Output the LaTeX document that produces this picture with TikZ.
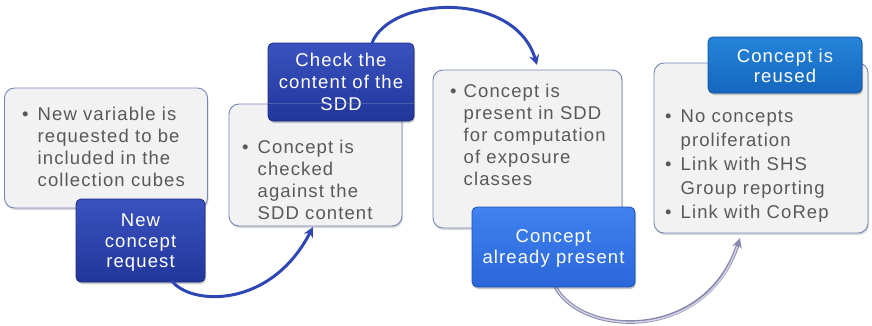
\documentclass[tikz,border=0pt]{standalone}
\usepackage{fontspec}
\setmainfont{Liberation Sans}[LetterSpace=6]
\usetikzlibrary{arrows.meta,shadows}

\definecolor{panelfill}{HTML}{F2F2F2}
\definecolor{paneledge}{HTML}{7585B8}
\definecolor{bodytext}{HTML}{595959}
\definecolor{navytop}{HTML}{3A52C0}
\definecolor{navybot}{HTML}{22369A}
\definecolor{navyedge}{HTML}{1B2C7E}
\definecolor{brighttop}{HTML}{3F82F0}
\definecolor{brightbot}{HTML}{2A66D8}
\definecolor{brightedge}{HTML}{1F52B0}
\definecolor{azuretop}{HTML}{2484DA}
\definecolor{azurebot}{HTML}{1666BE}
\definecolor{azureedge}{HTML}{10529E}
\definecolor{flowblue}{HTML}{2E47B4}
\definecolor{flowgrey}{HTML}{8A8AAE}
\definecolor{flowlight}{HTML}{D4D4E8}

\newcommand{\bodyfont}{\fontsize{18.5}{22}\selectfont}
\newcommand{\loosefont}{\fontsize{18.5}{24}\selectfont}

\pgfdeclarelayer{under}
\pgfsetlayers{under,main}

\tikzset{
  panel/.style={rectangle, rounded corners=10pt, fill=panelfill, draw=paneledge,
    line width=0.9pt, inner sep=0pt,
    drop shadow={shadow xshift=1pt, shadow yshift=-2pt, opacity=0.25, fill=black!60}},
  tag/.style={rectangle, rounded corners=5pt, line width=0.8pt, inner sep=0pt,
    text=white, font=\bodyfont, align=center,
    drop shadow={shadow xshift=1pt, shadow yshift=-2pt, opacity=0.3, fill=black!70}},
  navytag/.style={tag, top color=navytop, bottom color=navybot, draw=navyedge},
  brighttag/.style={tag, top color=brighttop, bottom color=brightbot, draw=brightedge},
  azuretag/.style={tag, top color=azuretop, bottom color=azurebot, draw=azureedge},
  bullets/.style={anchor=base west, inner sep=0pt, text=bodytext, font=\bodyfont},
  tagtext/.style={anchor=base, inner sep=0pt, text=white, font=\bodyfont},
  flow/.style={line width=3pt, draw=flowblue,
    -{Stealth[length=10pt, width=10pt]}},
  flowout/.style={line width=3.6pt, draw=flowgrey,
    -{Stealth[length=10pt, width=10pt]}},
  flowin/.style={line width=1.4pt, draw=flowlight, shorten >=9pt},
}

\newcommand{\bl}{\textbullet}

\begin{document}
\begin{tikzpicture}[x=1pt, y=-1pt]
\useasboundingbox (0,0) rectangle (872,325);

% ---- stage 1: new concept request
\node[panel, minimum width=203pt, minimum height=120pt] (p1) at (106,148) {};
\node[bullets] (t1) at (22,120) {\begin{tabular}[t]{@{}l@{\hspace{9pt}}l@{}}
  \bl & New variable is\\ & requested to be\\ & included in the\\ & collection cubes
  \end{tabular}};
\node[navytag, minimum width=129pt, minimum height=83pt] (k1) at (140.5,240.5) {};
\node[tagtext] (k1a) at (140.5,226.5) {New};
\node[tagtext] (k1b) at (140.5,247) {concept};
\node[tagtext] (k1c) at (140.5,267) {request};

% ---- stage 2: check the content of the SDD
\node[panel, minimum width=173pt, minimum height=122pt] (p2) at (315.5,165) {};
\node[navytag, minimum width=146pt, minimum height=78pt] (k2) at (341,82) {};
\node[tagtext] (k2a) at (341,66) {Check the};
\node[tagtext] (k2b) at (341,88) {content of the};
\node[tagtext] (k2c) at (341,110) {SDD};
% panel edge showing through the heading
\draw[paneledge, line width=0.8pt, opacity=0.45]
  (k2.west |- p2.north) ++(0.5,0) -- (k2.east |- p2.north);
\node[bullets] (t2) at (242,153) {\begin{tabular}[t]{@{}l@{\hspace{9pt}}l@{}}
  \bl & Concept is\\ & checked\\ & against the\\ & SDD content
  \end{tabular}};

% ---- stage 3: concept already present
\node[panel, minimum width=189pt, minimum height=158pt] (p3) at (527.5,149) {};
\node[bullets] (t3) at (450,97) {\begin{tabular}[t]{@{}l@{\hspace{7pt}}l@{}}
  \bl & Concept is\\ & present in SDD\\ & for computation\\ & of exposure\\ & classes
  \end{tabular}};
\node[brighttag, minimum width=163pt, minimum height=80pt] (k3) at (553.5,247) {};
\node[tagtext] (k3a) at (553.5,242.5) {Concept};
\node[tagtext] (k3b) at (553.5,263.5) {already present};

% ---- stage 4: concept is reused
\node[panel, minimum width=214pt, minimum height=170pt] (p4) at (761,148) {};
\node[bullets, font=\loosefont] (t4) at (665,122) {\begin{tabular}[t]{@{}l@{\hspace{9pt}}l@{}}
  \bl & No concepts\\ & proliferation\\ \bl & Link with SHS\\ & Group reporting\\ \bl & Link with CoRep
  \end{tabular}};
\node[azuretag, minimum width=154pt, minimum height=56pt] (k4) at (785,65) {};
\node[tagtext] (k4a) at (785,62) {Concept is};
\node[tagtext] (k4b) at (785,82) {reused};

% ---- connectors
\coordinate (f1s) at (172,281);
\coordinate (f1e) at (313,227);
\coordinate (f2s) at (372,43);
\coordinate (f2e) at (537,65);
\coordinate (f3s) at (553,282);
\coordinate (f3e) at (740,238);

\draw[flow] (f1s) .. controls (190,305) and (270,310) .. (f1e);
\draw[flow] (f2s) .. controls (390,-4) and (515,-10) .. (f2e);
\begin{pgfonlayer}{under}
  \draw[flowout] (f3s) .. controls (575,337) and (705,345) .. (f3e);
  \draw[flowin] (f3s) .. controls (575,337) and (705,345) .. (f3e);
\end{pgfonlayer}
\end{tikzpicture}
\end{document}
